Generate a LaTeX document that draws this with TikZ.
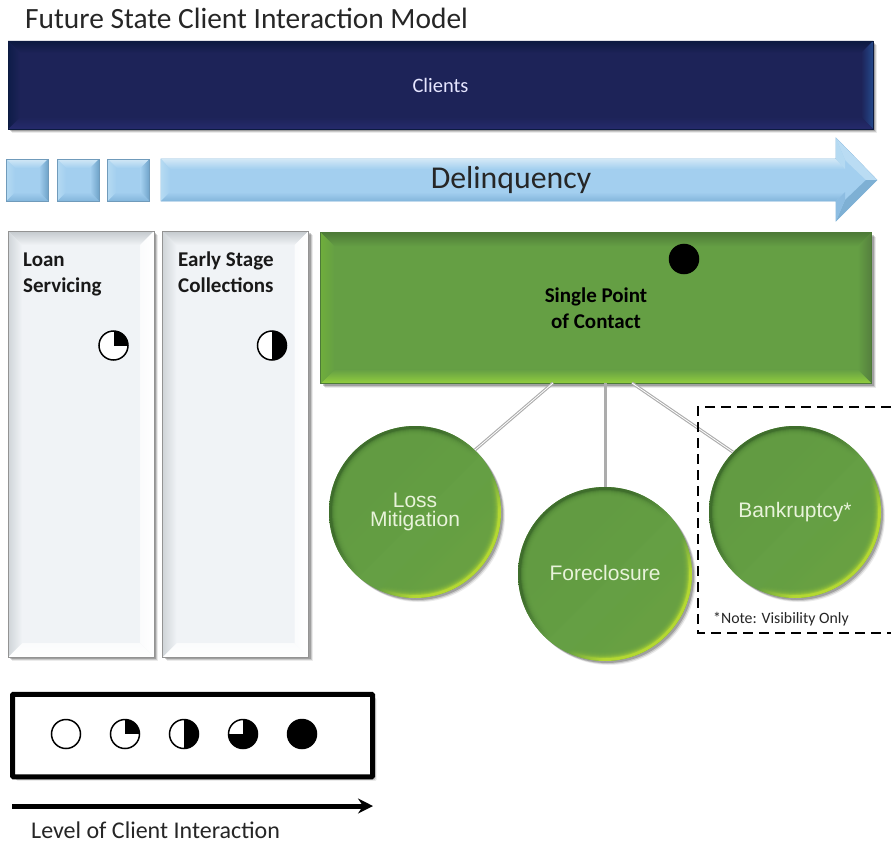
\documentclass[tikz,border=0pt]{standalone}
\usepackage{fontspec}
\setmainfont{Carlito}
\newfontfamily\arialf{Liberation Sans}
\usetikzlibrary{calc,shadows,arrows.meta}
\definecolor{navy}{HTML}{1D2358}
\definecolor{navyT}{HTML}{0C1A40}
\definecolor{navyR}{HTML}{24488A}
\definecolor{navyB}{HTML}{252A6C}
\definecolor{navyL}{HTML}{0E1C48}
\definecolor{sky}{HTML}{A3CFEF}
\definecolor{skyT}{HTML}{D2E8F6}
\definecolor{skyR}{HTML}{6FA3C9}
\definecolor{skyB}{HTML}{84B6DC}
\definecolor{skyL}{HTML}{B5DAF2}
\definecolor{pale}{HTML}{F0F3F6}
\definecolor{paleT}{HTML}{C4C9CD}
\definecolor{paleL}{HTML}{CFD4D8}
\definecolor{leaf}{HTML}{659F44}
\definecolor{leafT}{HTML}{4D7A38}
\definecolor{leafR}{HTML}{557F3E}
\definecolor{leafB}{HTML}{93CF3E}
\definecolor{leafL}{HTML}{6FAD3C}
\definecolor{lime}{HTML}{B4D832}
\definecolor{rimdark}{HTML}{3F6E2C}
\definecolor{softtext}{HTML}{E8F3DA}
\pgfdeclarehorizontalshading{rimshade}{100bp}{color(0bp)=(rimdark); color(38bp)=(rimdark); color(52bp)=(leaf); color(58bp)=(leaf); color(67bp)=(lime); color(100bp)=(lime)}
\tikzset{
  x=1pt,y=-1pt,
  softshadow/.style={
    drop shadow={shadow xshift=4pt,shadow yshift=-4pt,fill=black,opacity=.08},
    drop shadow={shadow xshift=3pt,shadow yshift=-3pt,fill=black,opacity=.14},
    drop shadow={shadow xshift=2pt,shadow yshift=-2pt,fill=black,opacity=.20}},
  bevelled/.style n args={7}{
    rectangle,inner sep=0pt,
    path picture={
      \coordinate (nw) at (path picture bounding box.north west);
      \coordinate (ne) at (path picture bounding box.north east);
      \coordinate (se) at (path picture bounding box.south east);
      \coordinate (sw) at (path picture bounding box.south west);
      \shade[top color=#2,bottom color=#6] (nw)--(ne)--($(ne)+(-#1,#1)$)--($(nw)+(#1,#1)$)--cycle;
      \shade[left color=#7,right color=#3] (ne)--(se)--($(se)+(-#1,-#1)$)--($(ne)+(-#1,#1)$)--cycle;
      \shade[top color=#7,bottom color=#4] (se)--(sw)--($(sw)+(#1,-#1)$)--($(se)+(-#1,-#1)$)--cycle;
      \shade[left color=#5,right color=#6] (sw)--(nw)--($(nw)+(#1,#1)$)--($(sw)+(#1,-#1)$)--cycle;
    }},
  clientbox/.style={bevelled={12}{navyT}{navyR}{navyB}{navyL}{navy}{navy},fill=navy,draw=navyT,line width=.8pt,
    minimum width=865pt,minimum height=88pt,softshadow,text=white!90!blue,font=\fontsize{20.5}{24}\selectfont},
  square/.style={bevelled={9}{skyT}{skyR}{skyB}{skyL}{sky}{sky},fill=sky,draw=skyB!85!black,line width=.6pt,
    minimum width=42pt,minimum height=42pt},
  panel/.style={bevelled={14}{paleT}{white}{white}{paleL}{pale}{white!70!pale},fill=pale,draw=gray!85,line width=.8pt,
    minimum height=426pt,softshadow},
  spocbox/.style={bevelled={14}{leafT}{leafR}{leafB}{leafL}{leaf}{leaf},fill=leaf,draw=leafT,line width=.5pt,
    minimum width=551pt,minimum height=151pt,softshadow,text=black,align=center,
    font=\bfseries\fontsize{21}{26}\selectfont},
  ball/.style={circle,inner sep=0pt,minimum size=#1,softshadow,fill=leaf,text=softtext,align=center,
    font=\arialf\fontsize{21}{19.5}\selectfont,
    path picture={
      \shade[shading=rimshade,shading angle=-45]
        (path picture bounding box.south west) rectangle (path picture bounding box.north east);
      \foreach \k in {3,4,5,6,7,8,9}
        \fill[leaf,opacity=.35] (path picture bounding box.center) circle[radius=.5*#1-\k pt];
    }},
  ball/.default=172pt,
  pie/.style={circle,draw=black,line width=1.5pt,fill=white,minimum size=29pt,inner sep=0pt},
  quarter/.style={pie,path picture={\fill[black] (path picture bounding box.center) rectangle (path picture bounding box.north east);}},
  half/.style={pie,path picture={\fill[black] (path picture bounding box.south) rectangle (path picture bounding box.north east);}},
  threeq/.style={pie,path picture={
     \fill[black] (path picture bounding box.south) rectangle (path picture bounding box.north east);
     \fill[black] (path picture bounding box.center) rectangle (path picture bounding box.south west);}},
  fullpie/.style={pie,fill=black},
  label text/.style={anchor=west,inner sep=0pt,font=\bfseries\fontsize{21}{26}\selectfont,align=left,text=black!90},
  plain text/.style={anchor=west,inner sep=0pt,text=black!85},
  link/.style={draw=gray!65,line width=3pt},
  linklight/.style={draw=white,line width=.8pt}
}
\begin{document}
\begin{tikzpicture}
\useasboundingbox (0,0) rectangle (891,843);
\fill[white] (0,0) rectangle (891,843);

\node[plain text] (title) at (25,18) {\fontsize{29.4}{32}\selectfont Future State Client Interaction Model};
\node[clientbox] (clients) at (440.5,85) {Clients};

% squares
\node[square] (sq1) at (27,180) {};
\node[square] (sq2) at (78,180) {};
\node[square] (sq3) at (128.5,180) {};

% delinquency arrow
\draw[draw=skyB,line width=.6pt,fill=sky] (161,159)--(836,159)--(836,138)--(877,180)--(836,221)--(836,201)--(161,201)--cycle;
\shade[top color=skyT,bottom color=sky] (161,159)--(836,159)--(845,169)--(170,169)--cycle;
\shade[left color=skyL,right color=sky] (161,159)--(170,169)--(170,192)--(161,201)--cycle;
\shade[top color=sky,bottom color=skyB] (161,201)--(836,201)--(845,192)--(170,192)--cycle;
\fill[skyT!50!sky] (836,138)--(877,180)--(866,180)--(845,160)--cycle;
\fill[skyL] (836,138)--(845,160)--(845,169)--(836,159)--cycle;
\fill[skyR!70!sky] (877,180)--(836,221)--(845,200)--(866,180)--cycle;
\fill[skyB!70!sky] (836,221)--(836,201)--(845,192)--(845,200)--cycle;
\node[inner sep=0pt,text=black!85,font=\fontsize{31.8}{34}\selectfont] (delinq) at (511,180.5) {Delinquency};

% panels
\node[panel,minimum width=146pt] (loan) at (81,444) {};
\node[panel,minimum width=146pt] (early) at (235.5,444) {};
\node[label text] (loantxt) at (23,274.5) {\strut Loan\\\strut Servicing};
\node[label text] (earlytxt) at (178,274.5) {\strut Early Stage\\\strut Collections};
\node[quarter] (pieloan) at (113.5,345.5) {};
\node[half] (pieearly) at (272,345.5) {};

% single point of contact
\node[spocbox] (spoc) at (596,308) {Single Point\\of Contact};
\node[fullpie] (piespoc) at (684,259) {};

% circles
\coordinate (c1) at (553,383);
\coordinate (c2) at (605,383);
\coordinate (c3) at (632,383);
\node[ball] (loss) at (415,512) {Loss\\Mitigation};
\node[ball=174pt] (fore) at (605,574) {\raisebox{2pt}{Foreclosure}};
\node[ball] (bank) at (795,512) {Bankruptcy*};
\draw[link] (c1) -- (loss.46);
\draw[link] (c2) -- (fore.north);
\draw[link] (c3) -- (bank.136);
\draw[linklight] (c1) -- (loss.46);
\draw[linklight] (c3) -- (bank.136);

% dashed note box
\draw[black,line width=2pt,dash pattern=on 10pt off 6pt] (891,407) -- (698,407) -- (698,633) -- (891,633);
\node[plain text] (note) at (713,619) {\fontsize{15.8}{18}\selectfont *Note: Visibility Only};

% legend
\node[draw=black,line width=5pt,fill=white,rounded corners=1pt,minimum width=360pt,minimum height=82.5pt,inner sep=0pt,softshadow] (legend) at (192.5,735.5) {};
\node[pie] (l0) at (66,734) {};
\node[quarter] (l1) at (125,734) {};
\node[half] (l2) at (184,734) {};
\node[threeq] (l3) at (243,734) {};
\node[fullpie] (l4) at (302,734) {};

% scale arrow
\coordinate (s0) at (12,806);
\coordinate (s1) at (373,806);
\draw[line width=5pt,-{Stealth[length=15pt,width=15pt,inset=5pt]}] (s0) -- (s1);
\node[plain text] (scale) at (31,830) {\fontsize{24}{27}\selectfont Level of Client Interaction};
\end{tikzpicture}
\end{document}
